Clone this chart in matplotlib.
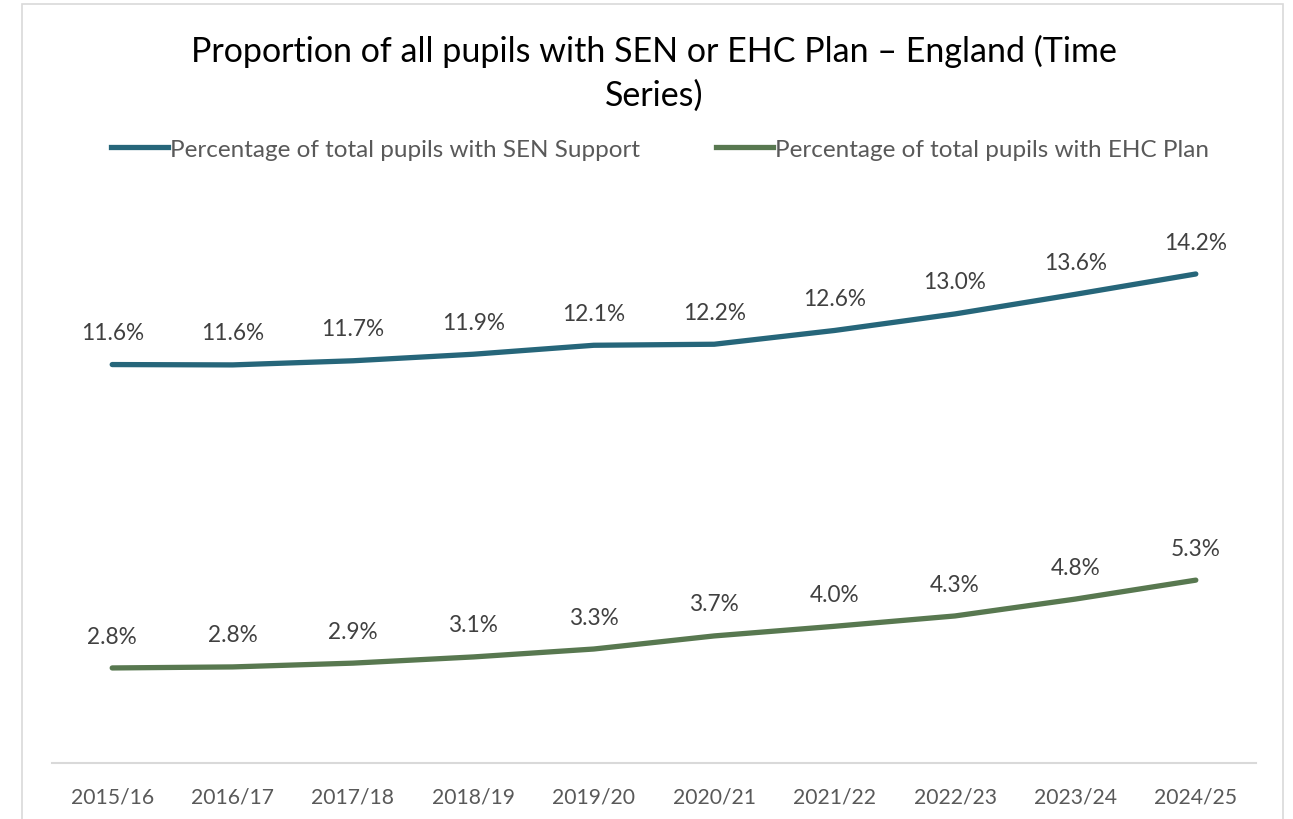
import matplotlib
matplotlib.use("Agg")
import matplotlib.pyplot as plt
from matplotlib.patches import Rectangle
from matplotlib.lines import Line2D

years = ["2015/16", "2016/17", "2017/18", "2018/19", "2019/20",
         "2020/21", "2021/22", "2022/23", "2023/24", "2024/25"]
sen_support = [11.57, 11.56, 11.68, 11.87, 12.13, 12.16, 12.56, 13.04, 13.61, 14.20]
ehc_plan = [2.76, 2.79, 2.90, 3.08, 3.31, 3.69, 3.97, 4.27, 4.76, 5.31]

series_names = ["Percentage of total pupils with SEN Support",
                "Percentage of total pupils with EHC Plan"]
title = "Proportion of all pupils with SEN or EHC Plan – England (Time\nSeries)"

FONT = ["Lato", "DejaVu Sans"]
plt.rcParams['font.family'] = FONT

c_sen = "#26667A"
c_ehc = "#587850"

W, H = 1293, 820
fig = plt.figure(figsize=(W / 100, H / 100), dpi=100)
fig.patch.set_facecolor("white")

# chart border
fig.add_artist(Rectangle((22 / W, -0.05), (1283 - 22) / W, 1 - 5 / H + 0.05,
                         transform=fig.transFigure, fill=False,
                         edgecolor="#D9D9D9", linewidth=1.2))

left, right = 52 / W, 1256 / W
bottom, top = 1 - 764 / H, 1 - 213 / H
ax = fig.add_axes([left, bottom, right - left, top - bottom])
x = list(range(len(years)))

ax.plot(x, sen_support, color=c_sen, lw=3.8, solid_capstyle="round", solid_joinstyle="round")
ax.plot(x, ehc_plan, color=c_ehc, lw=3.8, solid_capstyle="round", solid_joinstyle="round")

for xi, v in zip(x, sen_support):
    ax.annotate(f"{v:.1f}%", (xi, v), xytext=(0, 23), textcoords="offset points",
                ha="center", va="center", fontsize=16.3, color="#404040")
for xi, v in zip(x, ehc_plan):
    ax.annotate(f"{v:.1f}%", (xi, v), xytext=(0, 23), textcoords="offset points",
                ha="center", va="center", fontsize=16.3, color="#404040")

ax.set_xlim(-0.5, len(years) - 0.5)
ax.set_ylim(0, 16)
ax.set_xticks(x)
ax.set_xticklabels(years, fontsize=15.2, color="#595959")
ax.tick_params(axis="x", length=0, pad=17)
ax.set_yticks([])
for s in ["top", "right", "left"]:
    ax.spines[s].set_visible(False)
ax.spines["bottom"].set_color("#D9D9D9")
ax.spines["bottom"].set_linewidth(1.5)

fig.text(654 / W, 1 - 73 / H, title, ha="center", va="center", fontsize=24.5,
         color="black", linespacing=1.45)

handles = [Line2D([], [], color=c_sen, lw=3.8), Line2D([], [], color=c_ehc, lw=3.8)]
fig.legend(handles, series_names, loc="center", bbox_to_anchor=(660 / W, 1 - 150 / H),
           ncol=2, frameon=False, fontsize=17.5, labelcolor="#595959",
           handlelength=2.35, handletextpad=0.1, columnspacing=3.1)

fig.savefig("out.png", dpi=100)
